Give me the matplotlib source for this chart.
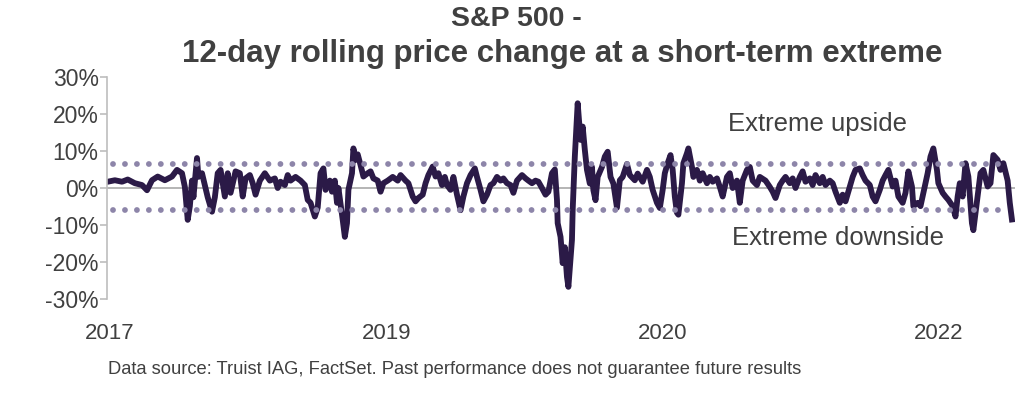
import matplotlib.pyplot as plt
from matplotlib.ticker import FuncFormatter

# trading-day index and 12-day rolling % change
day = [0, 10, 20, 28, 38, 48, 55, 62, 70, 80, 90, 97, 104, 108, 112, 115, 118, 120, 125, 127,
       132, 136, 140, 146, 150, 154, 158, 164, 168, 172, 179, 185, 189, 193, 199, 203, 207, 213, 220, 227,
       234, 238, 242, 248, 252, 256, 263, 270, 276, 280, 284, 290, 294, 298, 302, 305, 311, 314, 318, 321,
       323, 329, 332, 335, 337, 342, 344, 347, 350, 354, 358, 364, 368, 372, 378, 382, 386, 392, 399, 406,
       410, 417, 421, 427, 431, 435, 441, 445, 449, 455, 459, 463, 468, 472, 475, 480, 484, 489, 494, 498,
       503, 508, 514, 517, 522, 526, 531, 536, 540, 545, 550, 554, 559, 564, 568, 573, 580, 585, 589, 594,
       599, 603, 608, 613, 617, 622, 626, 629, 630, 634, 637, 640, 643, 645, 650, 651, 654, 658, 662, 665,
       668, 671, 675, 678, 680, 683, 686, 692, 696, 700, 704, 708, 713, 717, 721, 727, 731, 738, 742, 749,
       755, 759, 763, 769, 773, 777, 780, 784, 788, 791, 794, 797, 799, 804, 806, 811, 813, 818, 820, 825,
       829, 833, 839, 843, 847, 853, 857, 861, 867, 871, 875, 881, 885, 889, 895, 899, 903, 909, 913, 917,
       921, 927, 931, 935, 941, 945, 949, 955, 959, 963, 969, 973, 977, 983, 987, 991, 997, 1001, 1005, 1011,
       1015, 1019, 1025, 1029, 1033, 1039, 1043, 1047, 1053, 1057, 1061, 1067, 1071, 1075, 1081, 1085, 1089, 1093, 1099, 1103,
       1107, 1113, 1117, 1121, 1126, 1128, 1134, 1138, 1142, 1148, 1152, 1156, 1161, 1163, 1169, 1173, 1177, 1183, 1187, 1190,
       1193, 1197, 1201, 1205, 1210, 1212, 1218, 1222, 1226, 1232, 1236, 1240, 1246, 1250, 1254, 1260, 1263, 1266]
chg = [1.7, 2.1, 1.7, 2.3, 1.3, 0.8, -0.6, 2.1, 3.1, 2.1, 3.1, 4.9, 4.0, 0.3, -8.6, -4.9, 2.0, -2.5, 8.1, 3.0,
       4.0, 0.8, -2.5, -6.4, -2.5, 4.0, 4.9, -2.3, 4.0, -1.3, 4.5, 4.0, -2.3, 2.6, 3.5, 1.3, -1.8, 2.0, 4.0, 2.0,
       2.6, 0.0, 1.7, 0.8, 3.5, 2.0, 3.0, 2.0, 0.8, -3.2, -4.0, -7.7, -5.3, 4.0, 5.3, -0.5, 2.0, -1.0, 2.0, -4.0,
       0.0, -8.6, -13.2, -9.5, -0.5, 4.0, 10.7, 7.6, 9.1, 6.2, 3.1, 4.0, 4.5, 2.6, 2.0, -1.0, 1.3, 2.0, 3.0, 2.0,
       3.5, 2.0, 1.3, -2.3, -3.6, -2.7, -1.8, 1.3, 3.5, 5.8, 3.1, 4.0, 0.8, 3.0, 0.8, -0.5, 3.0, -1.8, -6.0, -2.3,
       1.3, 3.5, 5.3, 3.0, -0.5, -3.6, -1.8, 0.8, 1.3, 3.0, 2.0, 2.6, 1.3, 0.8, -1.3, 2.0, 3.5, 2.6, 2.0, 1.3,
       2.0, 1.7, 0.0, -1.8, -1.0, 4.0, 5.0, -3.2, -9.5, -13.2, -20.3, -16.0, -24.0, -26.7, -14.0, -5.9, 8.5, 22.9, 13.0, 16.6,
       10.3, 4.9, 1.2, 5.7, -0.6, -3.3, 3.0, 5.7, 8.5, 9.8, 3.0, 1.2, -5.3, 2.1, 3.0, 6.5, 3.5, 2.1, 3.9, 1.7,
       4.9, 3.0, -0.5, -4.0, -5.4, -0.5, 4.0, 6.7, 8.9, 4.9, -2.3, -6.7, -7.2, 1.3, 6.7, 9.4, 10.7, 5.7, 3.0, 4.9,
       2.0, 4.0, 1.3, 3.0, 1.7, 2.6, 0.3, -2.3, 3.0, 4.0, 0.0, 2.0, -4.0, 2.0, 4.9, 5.7, 2.0, 0.8, 3.0, 2.5,
       2.0, 0.3, -1.0, -2.7, 0.8, 2.0, 3.0, 1.3, 2.6, 0.0, 3.0, 4.5, 1.7, 2.6, 0.8, 3.5, 1.3, 3.0, 0.8, 2.0,
       1.3, -1.0, -4.0, -1.8, -3.6, 0.3, 3.0, 4.9, 5.3, 3.5, 2.0, 0.8, -2.3, -3.6, -0.5, 2.0, 3.5, 4.9, 0.4, 2.0,
       -2.3, -4.0, -1.3, 4.5, 0.4, -4.9, -4.0, -4.9, -1.3, 4.0, 8.5, 10.7, 4.9, 1.3, -1.3, -2.3, -3.2, -4.9, -7.7, -2.3,
       1.3, -2.3, 6.7, 3.1, -9.5, -11.4, -2.3, 4.0, 4.9, 0.4, 1.3, 8.9, 7.6, 4.9, 6.7, 2.0, -4.0, -8.5]

upside = 6.6
downside = -6.0
tick_days = [3, 390, 777, 1163]
tick_labels = ['2017', '2019', '2020', '2022']

plt.rcParams['font.family'] = ['Liberation Sans', 'DejaVu Sans']
plt.rcParams['lines.scale_dashes'] = False
text_col = '#404040'

fig = plt.figure(figsize=(10.24, 3.94), dpi=100)
ax = fig.add_axes([0.1045, 0.241, 0.8865, 0.5636])

ax.axhline(0, color='#a8a8a8', lw=1.2, zorder=1)
ax.plot(day, chg, color='#2b1a47', lw=4.2, solid_joinstyle='round', zorder=2)
for lvl in (upside, downside):
    ax.hlines(lvl, 7, day[-1] - 4, colors='#8d85a9', lw=4.2,
              linestyles=(0, (0.01, 8.6)), capstyle='round', zorder=3)

ax.set_xlim(-1, 1270)
ax.set_ylim(-30, 30)
ax.set_yticks(range(-30, 31, 10))
ax.yaxis.set_major_formatter(FuncFormatter(lambda v, p: f'{v:.0f}%'))
ax.set_xticks(tick_days)
ax.set_xticklabels(tick_labels)

for s in ('top', 'right', 'bottom'):
    ax.spines[s].set_visible(False)
ax.spines['left'].set_color('#bdbdbd')
ax.spines['left'].set_linewidth(1.2)
ax.tick_params(axis='y', colors='#bdbdbd', length=5, width=1.2, labelsize=16.5,
               labelcolor=text_col, pad=1)
ax.tick_params(axis='x', length=0, labelsize=16, labelcolor=text_col, pad=17)

ax.text(0.684, 0.788, 'Extreme upside', transform=ax.transAxes, ha='left', va='center',
        fontsize=18.5, color=text_col)
ax.text(0.688, 0.275, 'Extreme downside', transform=ax.transAxes, ha='left', va='center',
        fontsize=18.5, color=text_col)

fig.text(516 / 1024, 1 - 19 / 394, 'S&P 500 -', ha='center', va='center',
         fontsize=20.5, fontweight='bold', color=text_col)
fig.text(562 / 1024, 1 - 54 / 394, '12-day rolling price change at a short-term extreme',
         ha='center', va='center', fontsize=22.5, fontweight='bold', color=text_col)
fig.text(108 / 1024, 1 - 370 / 394,
         'Data source: Truist IAG, FactSet. Past performance does not guarantee future results',
         ha='left', va='center', fontsize=13.2, color=text_col)

fig.savefig('out.png', dpi=100)
